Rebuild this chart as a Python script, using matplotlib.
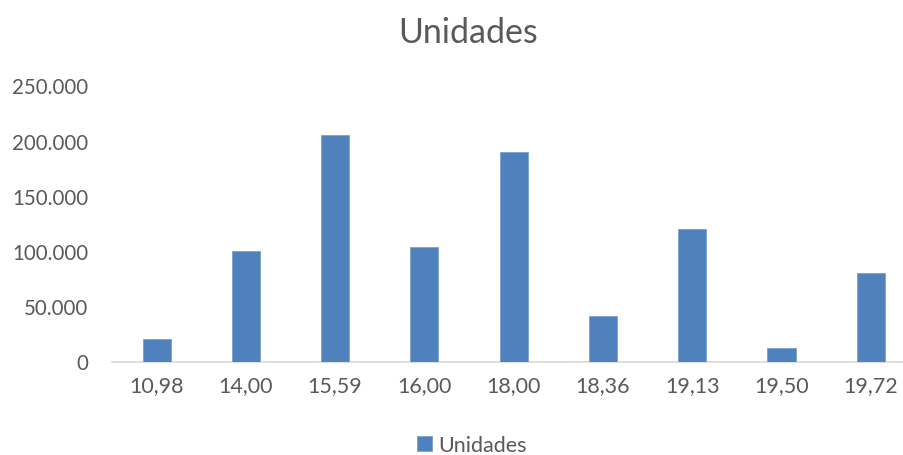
import numpy as np
import matplotlib.pyplot as plt

precos = ["10,98", "14,00", "15,59", "16,00", "18,00", "18,36", "19,13", "19,50", "19,72"]
unidades = [20400, 100000, 205000, 103500, 189500, 41200, 120300, 12000, 80000]
yticks = [0, 50000, 100000, 150000, 200000, 250000]

plt.rcParams['font.family'] = ['Lato', 'DejaVu Sans']
cinza = "#595959"

fig = plt.figure(figsize=(9.04, 4.56), dpi=100)
ax = fig.add_axes([112/904, 93.5/456, (915.4-112)/904, 276/456])

x = np.arange(len(precos))
ax.bar(x, unidades, width=0.314, color="#4F81BD", edgecolor="#7BA0CD", linewidth=0.6, label="Unidades", zorder=3)

ax.set_xlim(-0.5, len(precos)-0.5)
ax.set_ylim(0, 250000)
ax.set_yticks(yticks)
ax.set_yticklabels([f"{v:,}".replace(",", ".") for v in yticks])
ax.set_xticks(x)
ax.set_xticklabels(precos)
ax.tick_params(axis="both", length=0, labelsize=15.5, colors=cinza)
ax.tick_params(axis="y", labelsize=14.8, pad=17)
ax.tick_params(axis="x", pad=10)

for s in ["top", "right", "left"]:
	ax.spines[s].set_visible(False)
ax.spines["bottom"].set_color("#D9D9D9")
ax.spines["bottom"].set_linewidth(1.2)

fig.text(468/904, 1-33/456, "Unidades", ha="center", va="center", fontsize=24.5, color=cinza)
fig.legend(loc="center", bbox_to_anchor=(0.522, 1-446/456), frameon=False, fontsize=15.5,
	labelcolor=cinza, handlelength=0.7, handleheight=0.7, handletextpad=0.3)

fig.savefig("out.png", dpi=100)
